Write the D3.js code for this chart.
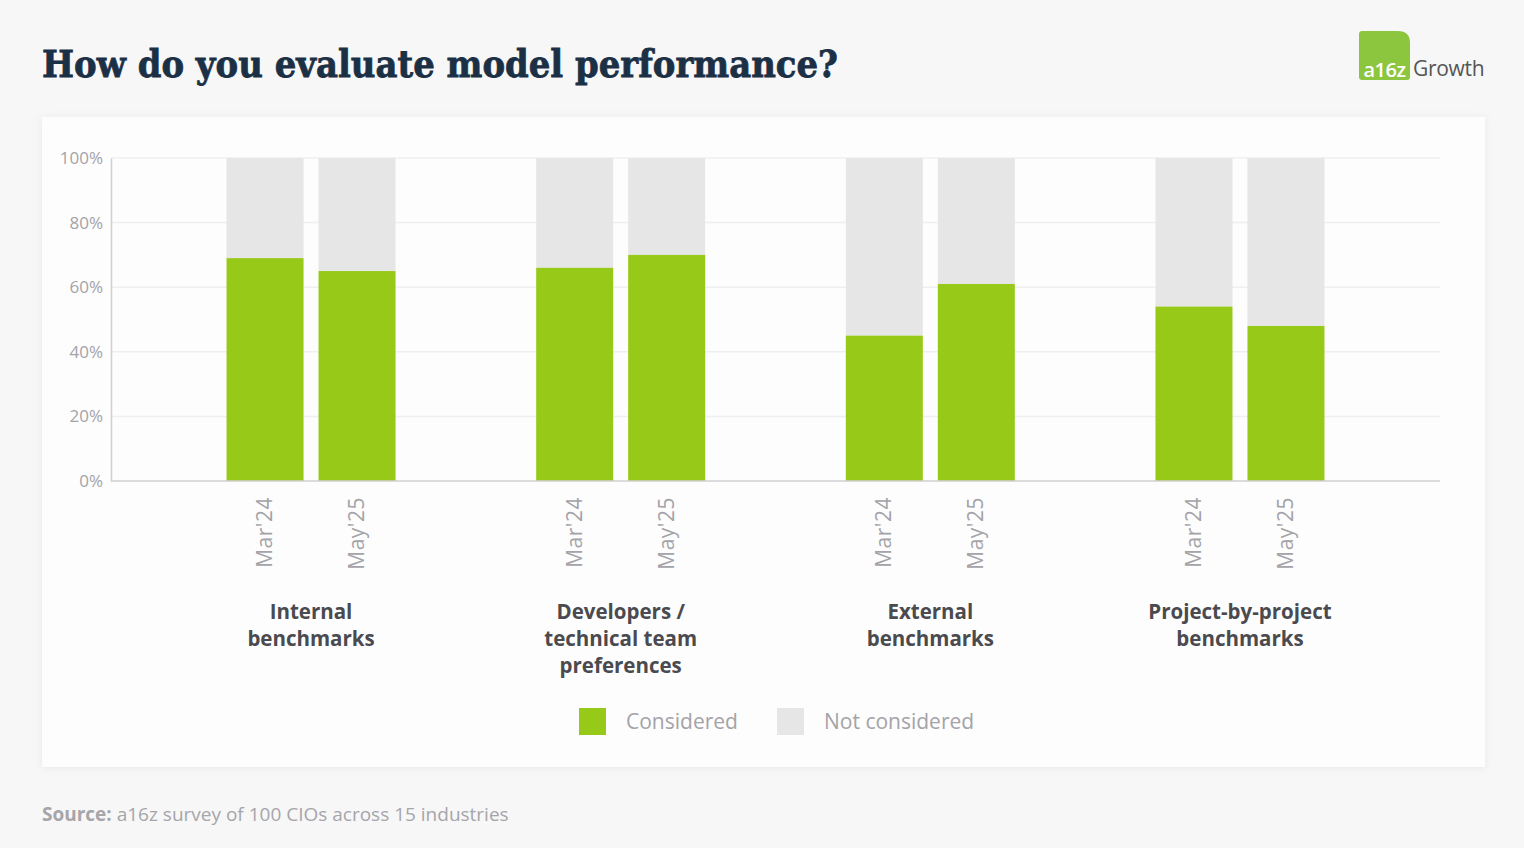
<!DOCTYPE html>
<html>
<head>
<meta charset="utf-8">
<script src="https://cdn.jsdelivr.net/npm/d3@7/dist/d3.min.js"></script>
<style>
  html, body { margin: 0; padding: 0; background: #f7f7f7; }
  svg { display: block; }
</style>
</head>
<body>
<svg id="chart" width="1524" height="848"></svg>
<script>
const categories = [
  ["Internal", "benchmarks"],
  ["Developers /", "technical team", "preferences"],
  ["External", "benchmarks"],
  ["Project-by-project", "benchmarks"]
];
const periods = ["Mar'24", "May'25"];
const considered = [
  [69, 65],
  [66, 70],
  [45, 61],
  [54, 48]
];
const yTicks = [0, 20, 40, 60, 80, 100];
const seriesNames = ["Considered", "Not considered"];
const colors = ["#96c918", "#e6e6e6"];

const svg = d3.select("#chart");
const font = "'Open Sans', sans-serif";

svg.append("rect").attr("width", 1524).attr("height", 848).attr("fill", "#f7f7f7");

const defs = svg.append("defs");
const f = defs.append("filter").attr("id", "sh").attr("x", "-5%").attr("y", "-5%").attr("width", "110%").attr("height", "110%");
f.append("feDropShadow").attr("dx", 0).attr("dy", 1).attr("stdDeviation", 4).attr("flood-color", "#000").attr("flood-opacity", 0.06);
svg.append("rect").attr("x", 42).attr("y", 117).attr("width", 1443).attr("height", 650)
  .attr("fill", "#fdfdfd").attr("filter", "url(#sh)");

svg.append("text").attr("x", 42).attr("y", 77)
  .attr("font-family", "'DejaVu Serif', serif").attr("font-weight", "bold")
  .attr("font-size", 38).attr("fill", "#1b2f45")
  .attr("stroke", "#1b2f45").attr("stroke-width", 0.8)
  .attr("textLength", 796).attr("lengthAdjust", "spacingAndGlyphs")
  .text("How do you evaluate model performance?");

const logo = svg.append("g");
logo.append("path")
  .attr("d", "M1362,31 L1398,31 Q1410,31 1410,43 L1410,77 Q1410,80 1407,80 L1362,80 Q1359,80 1359,77 L1359,34 Q1359,31 1362,31 Z")
  .attr("fill", "#8cc63f");
logo.append("text").attr("x", 1384.5).attr("y", 77).attr("text-anchor", "middle")
  .attr("font-family", font).attr("font-weight", 600).attr("font-size", 20).attr("fill", "#fff")
  .attr("letter-spacing", -0.5).text("a16z");
logo.append("text").attr("x", 1413).attr("y", 76)
  .attr("font-family", font).attr("font-size", 21).attr("fill", "#555")
  .attr("letter-spacing", -0.3).text("Growth");

const pLeft = 111, pRight = 1440, pTop = 158, pBottom = 481;
const y = d3.scaleLinear().domain([0, 100]).range([pBottom, pTop]);
const x0 = d3.scalePoint().domain(d3.range(categories.length)).range([pLeft, pRight]).padding(0.646);
const x1 = d3.scaleBand().domain(periods).range([-84.5, 84.5]).paddingInner(0.163).paddingOuter(0);

const g = svg.append("g");
g.selectAll("line.grid").data(yTicks.filter(d => d > 0)).join("line")
  .attr("x1", pLeft).attr("x2", pRight).attr("y1", d => y(d)).attr("y2", d => y(d))
  .attr("stroke", "#efefef").attr("stroke-width", 1.5);

const yAxis = d3.axisLeft(y).tickValues(yTicks).tickFormat(d => d + "%").tickSize(0).tickPadding(8);
const ya = g.append("g").attr("transform", `translate(${pLeft},0)`).call(yAxis);
ya.select(".domain").attr("stroke", "#cfcfcf").attr("stroke-width", 1.5);
ya.selectAll("text").attr("font-family", font).attr("font-size", 17).attr("fill", "#a3a3a8");

const groups = g.selectAll("g.grp").data(categories).join("g")
  .attr("transform", (d, i) => `translate(${x0(i)},0)`);
groups.each(function (cat, i) {
  const gg = d3.select(this);
  const data = periods.map((p, j) => ({ p, v: considered[i][j] }));
  gg.selectAll("rect.nc").data(data).join("rect")
    .attr("x", d => x1(d.p)).attr("width", x1.bandwidth())
    .attr("y", y(100)).attr("height", d => y(d.v) - y(100))
    .attr("fill", colors[1]);
  gg.selectAll("rect.c").data(data).join("rect")
    .attr("x", d => x1(d.p)).attr("width", x1.bandwidth())
    .attr("y", d => y(d.v)).attr("height", d => y(0) - y(d.v))
    .attr("fill", colors[0]);
  gg.selectAll("text.per").data(data).join("text")
    .attr("transform", d => `translate(${x1(d.p) + x1.bandwidth() / 2 + 7},${pBottom + 16}) rotate(-90)`)
    .attr("text-anchor", "end")
    .attr("font-family", font).attr("font-size", 21).attr("fill", "#a3a3a8")
    .attr("letter-spacing", 0.5)
    .text(d => d.p);
  const lab = gg.append("text").attr("text-anchor", "middle")
    .attr("font-family", font).attr("font-weight", 700).attr("font-size", 20.5).attr("fill", "#4a4a4f");
  cat.forEach((line, k) => {
    lab.append("tspan").attr("x", 0).attr("y", 619 + k * 27).text(line);
  });
});

g.append("line").attr("x1", pLeft).attr("x2", pRight).attr("y1", pBottom).attr("y2", pBottom)
  .attr("stroke", "#cfcfcf").attr("stroke-width", 1.5);

const legX = [579, 777];
const leg = svg.append("g");
seriesNames.forEach((name, i) => {
  leg.append("rect").attr("x", legX[i]).attr("y", 708).attr("width", 27).attr("height", 27).attr("fill", colors[i]);
  leg.append("text").attr("x", legX[i] + 47).attr("y", 729)
    .attr("font-family", font).attr("font-size", 21).attr("fill", "#a3a3a8").text(name);
});

const src = svg.append("text").attr("x", 42).attr("y", 821)
  .attr("font-family", font).attr("font-size", 19).attr("fill", "#a5a5aa");
src.append("tspan").attr("font-weight", "bold").text("Source:");
src.append("tspan").text(" a16z survey of 100 CIOs across 15 industries");
</script>
</body>
</html>
